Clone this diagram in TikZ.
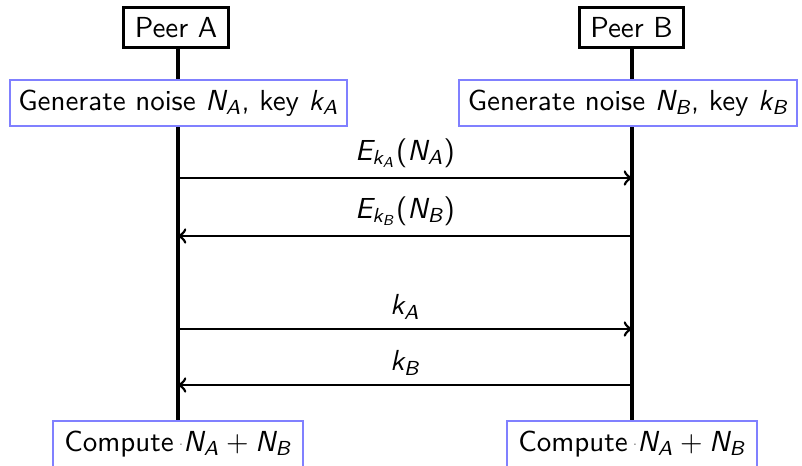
\documentclass[tikz,border=0pt]{standalone}
\usepackage{amsmath}
\renewcommand{\familydefault}{\sfdefault}
\newcommand\sv[1]{\text{\sffamily\itshape #1}}
\newcommand\pp[1]{\text{\sffamily #1}}
\newcommand\dotsep{\,{\color{black!45}\raisebox{0.45ex}{\scalebox{0.6}{.}}}}
\begin{document}
\begin{tikzpicture}[x=0.345pt,y=-0.345pt,
  peer/.style={draw=black,line width=1.05pt,fill=white,minimum width=36pt,minimum height=14pt,inner sep=0pt},
  act/.style={draw=blue!50,line width=0.6pt,fill=white,minimum height=15.9pt,inner sep=2pt},
  life/.style={line width=1.15pt},
  msg/.style={line width=0.95pt,->,>=to}]
\useasboundingbox (0,0) rectangle (802,465);
\coordinate (ta) at (178,47);
\coordinate (tb) at (632,47);
\coordinate (ea) at (178,422);
\coordinate (eb) at (632,422);
\draw[life] (ta) -- (ea);
\draw[life] (tb) -- (eb);
\node[peer] (pa) at (176,27.5) {Peer A};
\node[peer] (pb) at (631.5,27.5) {Peer B};
\node[act,minimum width=116.3pt] (ga) at (178.5,103) {Generate noise $\sv{N}_{\sv{A}}$, key $\sv{k}_{\sv{A}}$};
\node[act,minimum width=116.6pt] (gb) at (628,103) {Generate noise $\sv{N}_{\sv{B}}$, key $\sv{k}_{\sv{B}}$};
\node[act,minimum width=86.3pt] (ca) at (178,444) {Compute\dotsep$\sv{N}_{\sv{A}}+\sv{N}_{\sv{B}}$};
\node[act,minimum width=86.3pt] (cb) at (632,444) {Compute\dotsep$\sv{N}_{\sv{A}}+\sv{N}_{\sv{B}}$};
\coordinate (a1) at (178,178); \coordinate (b1) at (632,178);
\coordinate (a2) at (178,236); \coordinate (b2) at (632,236);
\coordinate (a3) at (178,329); \coordinate (b3) at (632,329);
\coordinate (a4) at (178,385); \coordinate (b4) at (632,385);
\draw[msg] (a1) -- node[above=-0.2pt] (l1) {$\sv{E}_{\sv{k}_{\sv{A}}}\pp{(}\sv{N}_{\sv{A}}\pp{)}$} (b1);
\draw[msg] (b2) -- node[above=-0.2pt] (l2) {$\sv{E}_{\sv{k}_{\sv{B}}}\pp{(}\sv{N}_{\sv{B}}\pp{)}$} (a2);
\draw[msg] (a3) -- node[above=-0.4pt] (l3) {$\sv{k}_{\sv{A}}$} (b3);
\draw[msg] (b4) -- node[above=-0.4pt] (l4) {$\sv{k}_{\sv{B}}$} (a4);
\end{tikzpicture}
\end{document}
